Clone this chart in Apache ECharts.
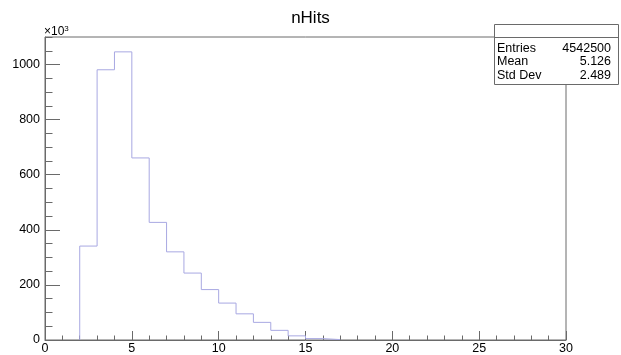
<!DOCTYPE html>
<html>
<head>
<meta charset="utf-8">
<script src="https://cdn.jsdelivr.net/npm/echarts@6/dist/echarts.min.js"></script>
<style>
  html, body { margin: 0; padding: 0; background: #fff; }
  #chart { width: 621px; height: 355px; }
</style>
</head>
<body>
<div id="chart"></div>
<script>
// nHits histogram: unit-width bins starting at 2, contents in thousands
const histTitle = 'nHits';
const binLow = 2;
const binWidth = 1;
const binCounts = [341, 981, 1046, 661, 427, 320, 243, 183, 134, 95, 64, 35, 15, 5, 1.5];

// axis ranges / ticks
const xRange = [0, 30];
const xMajor = 5;
const yRange = [0, 1100];
const yMajor = 200;
const yMinor = 50;

// statistics box
const statNames = ['Entries', 'Mean', 'Std Dev'];
const statValues = ['4542500', '5.126', '2.489'];

const FONT = 'Liberation Sans, Arial, Helvetica, sans-serif';
const AXIS = '#6a6a6a';
const HIST = '#a8a8e2';

// outline of the histogram: up the left edge, across each bin, down at the end
const outline = [[binLow, 0]];
binCounts.forEach((c, i) => {
  const lo = binLow + i * binWidth;
  outline.push([lo, c], [lo + binWidth, c]);
});
outline.push([binLow + binCounts.length * binWidth, 0]);

const chart = echarts.init(document.getElementById('chart'), null, { renderer: 'canvas' });

const statTexts = [];
statNames.forEach((name, i) => {
  const y = 48.5 + i * 13.5;
  statTexts.push({
    type: 'text', z: 101, x: 497, y: y,
    style: { text: name, font: '12.5px ' + FONT, fill: '#000', textAlign: 'left', textVerticalAlign: 'middle' }
  });
  statTexts.push({
    type: 'text', z: 101, x: 611, y: y,
    style: { text: statValues[i], font: '12.5px ' + FONT, fill: '#000', textAlign: 'right', textVerticalAlign: 'middle' }
  });
});

chart.setOption({
  backgroundColor: '#fff',
  animation: false,
  title: {
    text: histTitle, left: 'center', top: 5,
    textStyle: { fontFamily: FONT, fontSize: 17, fontWeight: 'normal', color: '#000' }
  },
  grid: {
    left: 45, right: 55, top: 37, bottom: 15,
    show: true, borderColor: AXIS, borderWidth: 1, backgroundColor: '#fff'
  },
  xAxis: {
    type: 'value', min: xRange[0], max: xRange[1], interval: xMajor,
    axisLine: { show: true, lineStyle: { color: AXIS, width: 1 } },
    axisTick: { show: true, inside: true, length: 9, lineStyle: { color: AXIS } },
    minorTick: { show: true, splitNumber: 5, length: 4.5, lineStyle: { color: AXIS } },
    axisLabel: { margin: 2, fontFamily: FONT, fontSize: 12.5, color: '#000', formatter: v => String(v) },
    splitLine: { show: false }
  },
  yAxis: [
    {
      type: 'value', min: yRange[0], max: yRange[1], interval: yMajor,
      axisLine: { show: true, lineStyle: { color: AXIS, width: 1 } },
      axisTick: { show: true, inside: true, length: 15, lineStyle: { color: AXIS } },
      axisLabel: {
        margin: 5, fontFamily: FONT, fontSize: 12.5, color: '#000', showMaxLabel: false,
        formatter: v => String(v)
      },
      splitLine: { show: false }
    },
    {
      type: 'value', min: yRange[0], max: yRange[1], interval: yMinor, position: 'left',
      axisLine: { show: false },
      axisTick: { show: true, inside: true, length: 7.5, lineStyle: { color: AXIS } },
      axisLabel: { show: false },
      splitLine: { show: false }
    }
  ],
  series: [{
    type: 'line', data: outline, yAxisIndex: 0,
    showSymbol: false, symbol: 'none',
    lineStyle: { color: HIST, width: 1 },
    z: 3
  }],
  graphic: [
    {
      type: 'text', z: 100, left: 44, top: 25,
      style: {
        text: '×10{s|3}', font: '12px ' + FONT, fill: '#000',
        rich: { s: { fontSize: 8, fontFamily: FONT, verticalAlign: 'top', padding: [0, 0, 6, 0] } }
      }
    },
    {
      type: 'rect', z: 100,
      shape: { x: 494.5, y: 24.5, width: 124, height: 60 },
      style: { fill: '#fff', stroke: AXIS, lineWidth: 1 }
    },
    {
      type: 'line', z: 101,
      shape: { x1: 494.5, y1: 37.5, x2: 618.5, y2: 37.5 },
      style: { stroke: AXIS, lineWidth: 1 }
    }
  ].concat(statTexts)
});
</script>
</body>
</html>
